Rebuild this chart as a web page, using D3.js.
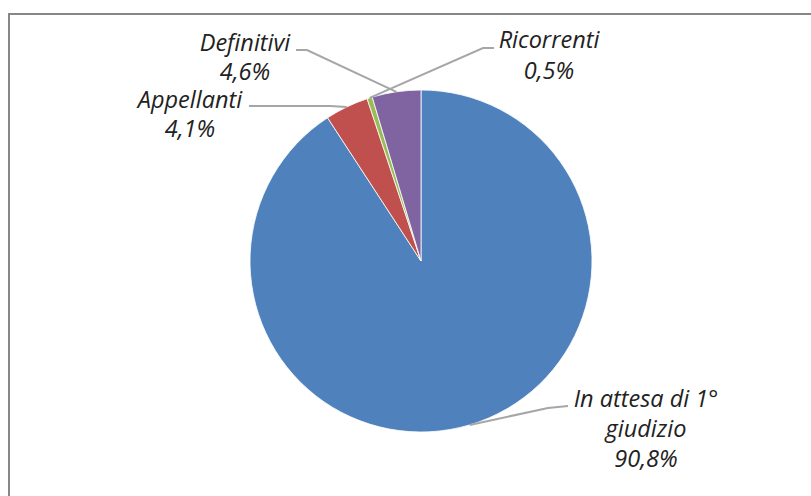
<!DOCTYPE html>
<html>
<head>
<meta charset="utf-8">
<script src="https://cdn.jsdelivr.net/npm/d3@7"></script>
<style>
  body { margin: 0; background: #fff; }
  svg { display: block; }
  .lbl { font-family: "Open Sans", Lato, sans-serif; font-style: italic; font-size: 23.5px; fill: #222; }
</style>
</head>
<body>
<div id="chart"></div>
<script>
// data
const categories = ["In attesa di 1° giudizio", "Appellanti", "Ricorrenti", "Definitivi"];
const values = [90.8, 4.1, 0.5, 4.6];
const labelLines = [["In attesa di 1°", "giudizio", "90,8%"], ["Appellanti", "4,1%"], ["Ricorrenti", "0,5%"], ["Definitivi", "4,6%"]];
const colors = ["#4F81BD", "#C0504D", "#9BBB59", "#8064A2"];

// label layout: text centre x, first baseline y, line spacing, elbow point, line end near text
const labelLayout = [
  { tx: 646, ty: 407, dy: 30, elbow: [548, 408], end: [568, 406] },
  { tx: 190, ty: 108, dy: 29, elbow: [330, 106], end: [249, 106] },
  { tx: 549, ty: 48, dy: 31, elbow: [483, 48], end: [494, 48] },
  { tx: 245, ty: 51, dy: 29, elbow: [307, 50], end: [296, 50] }
];

const width = 811, height = 496;
const cx = 421, cy = 261, radius = 171;

const svg = d3.select("#chart").append("svg")
  .attr("width", width)
  .attr("height", height);

// chart frame
svg.append("rect")
  .attr("x", 9)
  .attr("y", 14)
  .attr("width", 900)
  .attr("height", 600)
  .attr("fill", "#fff")
  .attr("stroke", "#878787")
  .attr("stroke-width", 2);

const data = categories.map((c, i) => ({ name: c, value: values[i], i: i }));

const pie = d3.pie().value(d => d.value).sort(null);
const arc = d3.arc().innerRadius(0).outerRadius(radius);
const arcs = pie(data);

const g = svg.append("g").attr("transform", `translate(${cx},${cy})`);

g.selectAll(".slice")
  .data(arcs)
  .enter()
  .append("path")
  .attr("class", "slice")
  .attr("d", arc)
  .attr("fill", d => colors[d.data.i])
  .attr("stroke", "#fff")
  .attr("stroke-width", 0.8);

// leader lines
arcs.forEach(d => {
  let a = (d.startAngle + d.endAngle) / 2;
  let px = cx + radius * Math.sin(a);
  let py = cy - radius * Math.cos(a);
  let L = labelLayout[d.data.i];
  svg.append("polyline")
    .attr("points", [[px, py], L.elbow, L.end].map(p => p.join(",")).join(" "))
    .attr("fill", "none")
    .attr("stroke", "#a6a6a6")
    .attr("stroke-width", 2);
});

// labels
arcs.forEach(d => {
  let L = labelLayout[d.data.i];
  let t = svg.append("text")
    .attr("class", "lbl")
    .attr("text-anchor", "middle");
  labelLines[d.data.i].forEach((s, k) => {
    t.append("tspan")
      .attr("x", L.tx)
      .attr("y", L.ty + k * L.dy)
      .text(s);
  });
});
</script>
</body>
</html>
